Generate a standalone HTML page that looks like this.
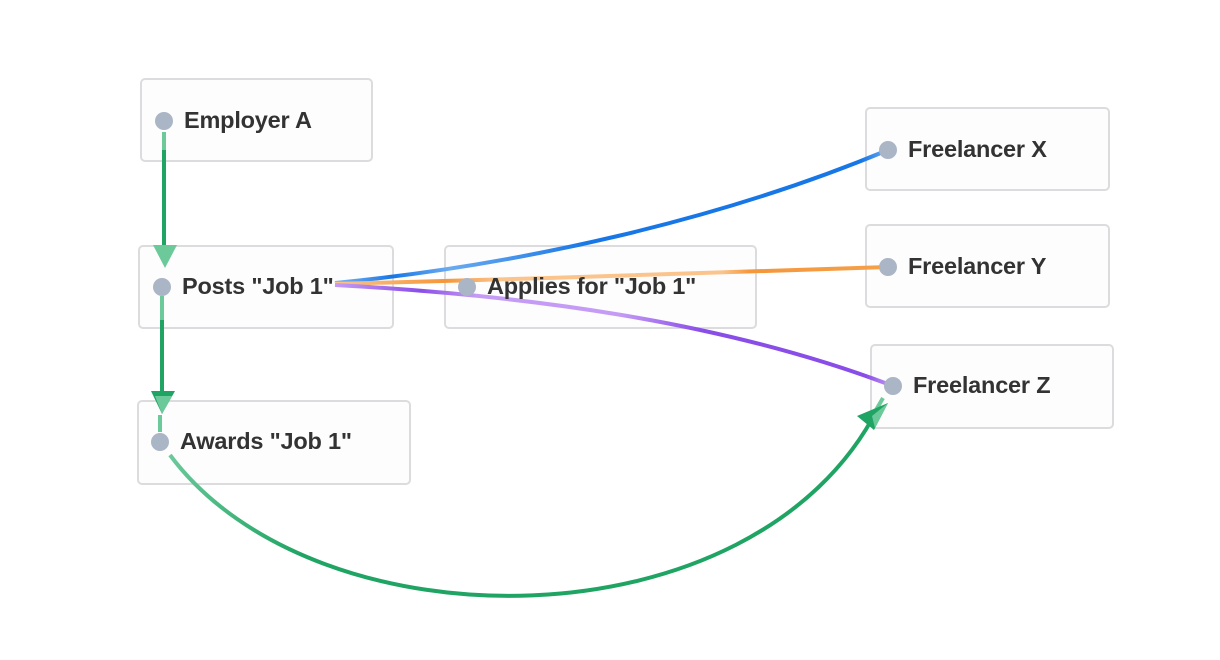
<!DOCTYPE html>
<html><head><meta charset="utf-8"><style>
body{margin:0;width:1220px;height:660px;background:#fff;overflow:hidden;position:relative;font-family:"Liberation Sans",sans-serif}
.n{position:absolute;border:2px solid #dcdcdf;border-radius:5px;background:#fdfdfd;box-sizing:border-box}
.t{position:absolute;font-size:23.5px;color:#333;font-weight:bold;letter-spacing:-0.2px;white-space:nowrap}
svg{position:absolute;left:0;top:0}
</style></head><body>
<div class="n" style="left:140px;top:78px;width:233px;height:84px"></div>
<div class="n" style="left:138px;top:245px;width:256px;height:84px"></div>
<div class="n" style="left:444px;top:245px;width:313px;height:84px"></div>
<div class="n" style="left:137px;top:400px;width:274px;height:85px"></div>
<div class="n" style="left:865px;top:107px;width:245px;height:84px"></div>
<div class="n" style="left:865px;top:224px;width:245px;height:84px"></div>
<div class="n" style="left:870px;top:344px;width:244px;height:85px"></div>
<svg width="1220" height="660">
<defs>
<linearGradient id="gb" gradientUnits="userSpaceOnUse" x1="335" y1="283" x2="888" y2="150">
<stop offset="0" stop-color="#7fb6f2"/><stop offset="0.1" stop-color="#1877e6"/><stop offset="0.2" stop-color="#6aaaf0"/><stop offset="0.45" stop-color="#1877e6"/><stop offset="0.95" stop-color="#1877e6"/><stop offset="1" stop-color="#6aaaf0"/></linearGradient>
<linearGradient id="go" gradientUnits="userSpaceOnUse" x1="335" y1="284" x2="888" y2="267">
<stop offset="0" stop-color="#fbc48d"/><stop offset="0.2" stop-color="#f5973a"/><stop offset="0.3" stop-color="#fbc48d"/><stop offset="0.7" stop-color="#fbc48d"/><stop offset="0.75" stop-color="#f5973a"/><stop offset="1" stop-color="#f5a04a"/></linearGradient>
<linearGradient id="gp" gradientUnits="userSpaceOnUse" x1="335" y1="285" x2="893" y2="386">
<stop offset="0" stop-color="#c59cf5"/><stop offset="0.15" stop-color="#8a4ee8"/><stop offset="0.25" stop-color="#c59cf5"/><stop offset="0.5" stop-color="#c59cf5"/><stop offset="0.65" stop-color="#8a4ee8"/><stop offset="0.95" stop-color="#8a4ee8"/><stop offset="1" stop-color="#c59cf5"/></linearGradient>
<linearGradient id="gg" gradientUnits="userSpaceOnUse" x1="170" y1="455" x2="300" y2="560">
<stop offset="0" stop-color="#6cc99a"/><stop offset="1" stop-color="#1fa463"/></linearGradient>
</defs>
<g fill="none" stroke-width="4">
<path d="M164,132 V250" stroke="#6cc99a"/><path d="M164,150 V250" stroke="#1fa463"/>
<path d="M162,296 V400" stroke="#6cc99a"/><path d="M162,320 V400" stroke="#1fa463"/>
<path d="M160,415 V432" stroke="#6cc99a"/>
<path d="M335,283 C 520,265 720,220 888,150" stroke="url(#gb)"/>
<path d="M335,284 C 520,280 700,272 888,267" stroke="url(#go)"/>
<path d="M335,285 C 520,295 720,320 893,386" stroke="url(#gp)"/>
<path d="M170,455 C 315,650 755,650 878,408" stroke="url(#gg)"/>
<path d="M883,398 L876,410" stroke="#6cc99a"/>
</g>
<polygon points="153,245 177,245 165,268" fill="#6cc99a"/>
<polygon points="151,391 175,391 162,414" fill="#1fa463"/><polygon points="155,396 172,396 162,414" fill="#6cc99a"/>
<polygon points="888,403 857,416 874,430" fill="#1fa463"/><polygon points="888,403 872,416 875,428" fill="#6cc99a"/>
<g fill="#aab5c5">
<circle cx="164" cy="121" r="9"/><circle cx="162" cy="287" r="9"/><circle cx="467" cy="287" r="9"/>
<circle cx="160" cy="442" r="9"/><circle cx="888" cy="150" r="9"/><circle cx="888" cy="267" r="9"/><circle cx="893" cy="386" r="9"/>
</g>
</svg>
<div class="t" style="left:184px;top:107px">Employer A</div>
<div class="t" style="left:182px;top:273px">Posts "Job 1"</div>
<div class="t" style="left:487px;top:273px">Applies for "Job 1"</div>
<div class="t" style="left:180px;top:428px">Awards "Job 1"</div>
<div class="t" style="left:908px;top:136px">Freelancer X</div>
<div class="t" style="left:908px;top:253px">Freelancer Y</div>
<div class="t" style="left:913px;top:372px">Freelancer Z</div>
</body></html>
